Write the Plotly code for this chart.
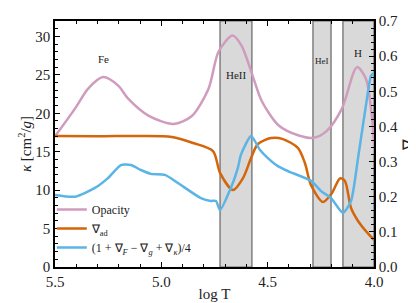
import plotly.graph_objects as go

# ---- data ----
opac_logT = [5.5, 5.406, 5.344, 5.274, 5.203, 5.156, 5.061, 4.943, 4.858, 4.778, 4.731, 4.665,
             4.623, 4.571, 4.528, 4.448, 4.354, 4.283, 4.222, 4.151, 4.080, 4.038, 4.014, 3.995]
opac_kappa = [17.0, 20.6, 23.2, 24.7, 23.6, 21.9, 19.7, 18.6, 19.6, 23.2, 28.0, 30.1,
              28.8, 24.9, 21.6, 18.4, 17.1, 16.8, 17.7, 20.6, 26.0, 24.5, 20.6, 14.2]

ad_logT = [5.5, 5.3, 5.1, 4.95, 4.851, 4.757, 4.724, 4.663, 4.616, 4.578, 4.546, 4.484, 4.428,
           4.358, 4.325, 4.296, 4.240, 4.198, 4.160, 4.137, 4.108, 4.075, 4.042, 4.0]
ad_val = [0.373, 0.372, 0.373, 0.370, 0.353, 0.330, 0.268, 0.219, 0.253, 0.310, 0.350, 0.367, 0.364,
          0.339, 0.296, 0.233, 0.185, 0.210, 0.252, 0.245, 0.168, 0.131, 0.105, 0.077]

mix_logT = [5.5, 5.406, 5.312, 5.251, 5.190, 5.143, 5.096, 5.049, 4.983, 4.922, 4.814, 4.767,
            4.743, 4.724, 4.673, 4.640, 4.626, 4.578, 4.536, 4.499, 4.452, 4.405, 4.296, 4.249,
            4.202, 4.146, 4.108, 4.075, 4.028, 4.014, 4.0]
mix_val = [0.205, 0.200, 0.225, 0.253, 0.290, 0.290, 0.276, 0.265, 0.262, 0.239, 0.196, 0.188,
           0.188, 0.162, 0.225, 0.282, 0.319, 0.373, 0.333, 0.310, 0.287, 0.273, 0.245, 0.216,
           0.196, 0.154, 0.188, 0.310, 0.500, 0.544, 0.552]

zones = [("HeII", 4.724, 4.574), ("HeI", 4.287, 4.202), ("H", 4.146, 4.0)]
zone_labels = [("Fe", 5.27, 27.0, 11), ("HeII", 4.648, 25.0, 11), ("HeI", 4.245, 26.8, 9), ("H", 4.075, 27.9, 11)]

FONT = "Liberation Serif"
fig = go.Figure()

for name, x0, x1 in zones:
    fig.add_shape(type="rect", xref="x", yref="paper", x0=x0, x1=x1, y0=0, y1=1,
                  fillcolor="#d9d9d9", line=dict(color="#666666", width=1.2), layer="below")

fig.add_trace(go.Scatter(x=opac_logT, y=opac_kappa, mode="lines", name="Opacity",
                         line=dict(color="#d09cbd", width=2.5, shape="spline", smoothing=0.8)))
fig.add_trace(go.Scatter(x=ad_logT, y=ad_val, mode="lines", name="∇<sub>ad</sub>", yaxis="y2",
                         line=dict(color="#d5650a", width=2.5, shape="spline", smoothing=0.8)))
fig.add_trace(go.Scatter(x=mix_logT, y=mix_val, mode="lines",
                         name="(1 + ∇<sub><i>F</i></sub> − ∇<sub><i>g</i></sub> + ∇<sub><i>κ</i></sub>)/4",
                         yaxis="y2",
                         line=dict(color="#5ab4e6", width=2.5, shape="spline", smoothing=0.6)))

for txt, x, y, s in zone_labels:
    fig.add_annotation(x=x, y=y, xref="x", yref="y", text=txt, showarrow=False,
                       font=dict(family=FONT, size=s, color="#222"))

fig.update_layout(
    width=416, height=303,
    margin=dict(l=47, r=50, t=13, b=44),
    paper_bgcolor="white", plot_bgcolor="white",
    font=dict(family=FONT, size=15, color="#222"),
    showlegend=True,
    legend=dict(x=-0.01, y=0.02, xanchor="left", yanchor="bottom", bgcolor="rgba(0,0,0,0)",
                font=dict(size=12), itemwidth=30, tracegroupgap=0),
    xaxis=dict(range=[5.5, 4.0], showgrid=False, zeroline=False, showline=True, linecolor="black",
               linewidth=1.5, mirror="ticks", ticks="inside", ticklen=5, tickcolor="black",
               dtick=0.5, tick0=4.0, tickformat=".1f", automargin=False,
               minor=dict(ticks="inside", ticklen=3, dtick=0.1, tickcolor="black"),
               title=dict(text="log T", standoff=0, font=dict(size=15))),
    yaxis=dict(range=[0, 32], showgrid=False, zeroline=False, showline=True, linecolor="black",
               linewidth=1.5, ticks="inside", ticklen=5, tickcolor="black", dtick=5, automargin=False,
               minor=dict(ticks="inside", ticklen=3, dtick=1, tickcolor="black"),
               title=dict(text="<i>κ</i> [cm<sup>2</sup>/<i>g</i>]", standoff=0, font=dict(size=15))),
    yaxis2=dict(range=[0, 0.7], overlaying="y", side="right", showgrid=False, zeroline=False,
                showline=True, linecolor="black", linewidth=1.5, ticks="inside", ticklen=5,
                tickcolor="black", dtick=0.1, tickformat=".1f", automargin=False,
                minor=dict(ticks="inside", ticklen=3, dtick=0.02, tickcolor="black"),
                title=dict(text="∇", standoff=6, font=dict(size=16))),
)

fig.write_html("out.html")
